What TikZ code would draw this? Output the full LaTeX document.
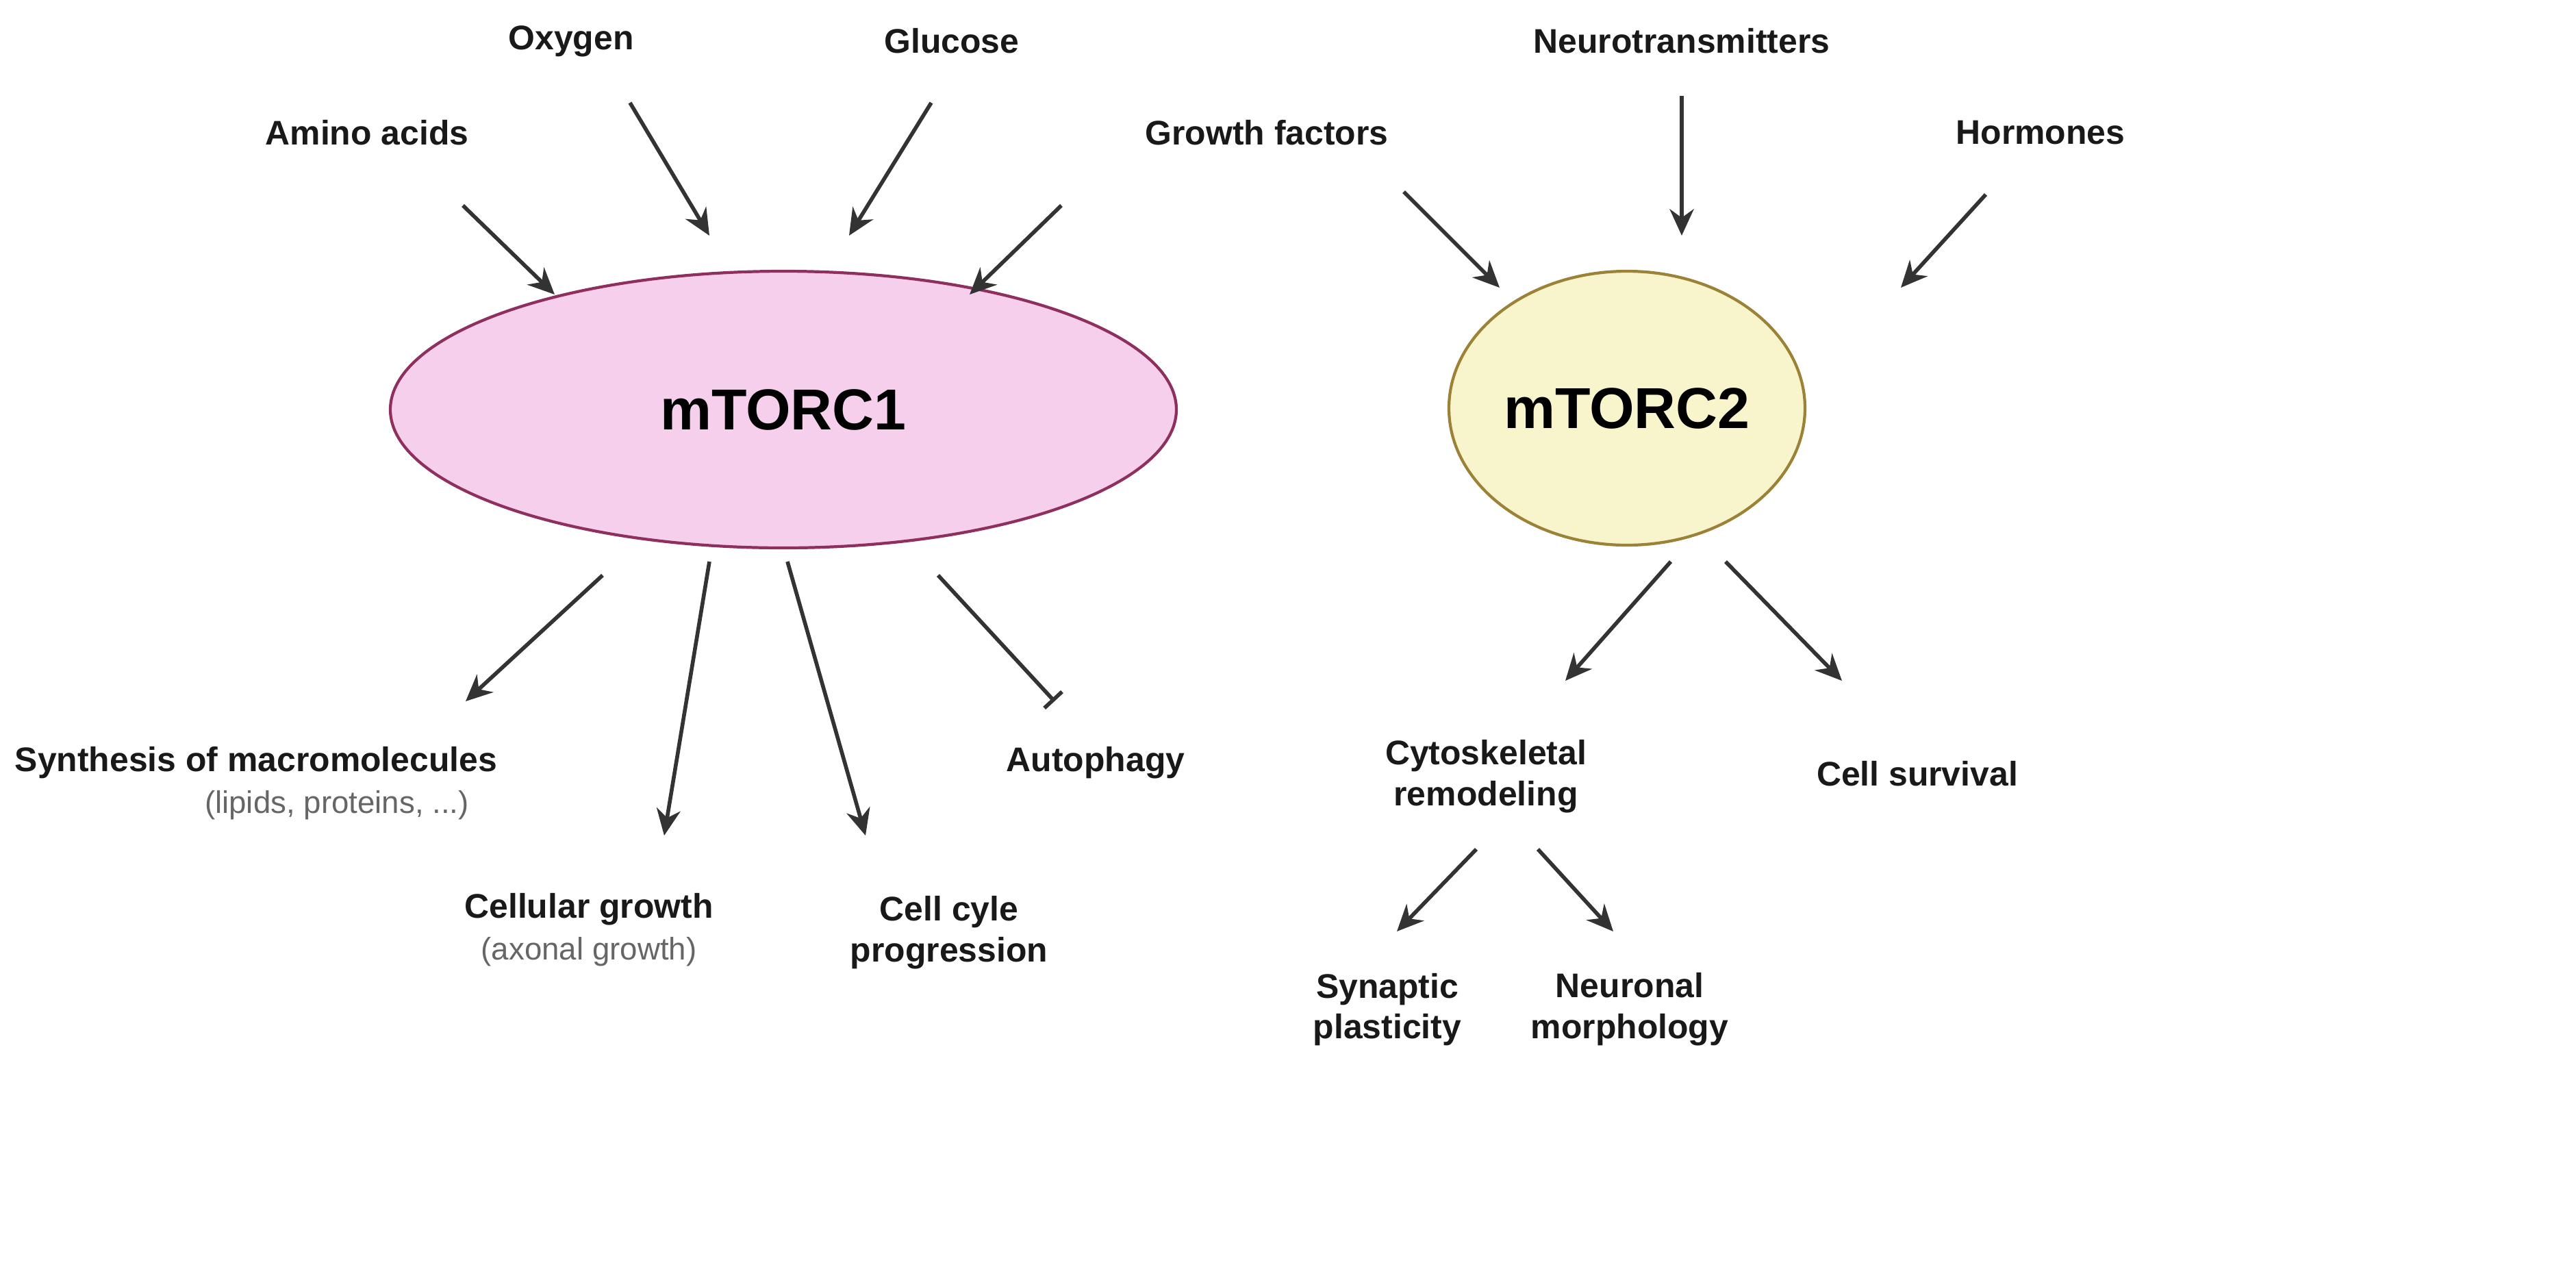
\documentclass[tikz,border=0pt]{standalone}
\usepackage{fontspec}
\setmainfont{Liberation Sans}
\usetikzlibrary{arrows.meta,shapes.geometric}
\definecolor{arr}{HTML}{333333}
\definecolor{pinkf}{HTML}{F6CFEC}
\definecolor{pinkd}{HTML}{8E2F5E}
\definecolor{yelf}{HTML}{F8F4CC}
\definecolor{yeld}{HTML}{9C8236}
\definecolor{gtxt}{HTML}{666666}
\begin{document}
\begin{tikzpicture}[x=0.02cm,y=-0.02cm,
  lab/.style={font=\fontsize{14.2}{17}\selectfont\bfseries,text=black!90,align=center,inner sep=0},
  sub/.style={font=\fontsize{13}{15}\selectfont,text=gtxt,inner sep=0},
  act/.style={draw=arr,line width=1.6pt,-{Stealth[length=11pt,width=10pt]}},
  inh/.style={draw=arr,line width=1.6pt,-{Bar[width=10pt,line width=1.6pt]}},
  cplx/.style={ellipse,line width=1.2pt,font=\fontsize{24}{28}\selectfont\bfseries,inner sep=0}]
\useasboundingbox (0,0) rectangle (1881,934);
\node[cplx,draw=pinkd,fill=pinkf,minimum width=574*0.02cm,minimum height=202*0.02cm] (m1) at (572,299) {mTORC1};
\node[cplx,draw=yeld,fill=yelf,minimum width=260*0.02cm,minimum height=200*0.02cm] (m2) at (1188,298) {mTORC2};
% inputs
\node[lab] (aa) at (268,97) {Amino acids};
\node[lab] (ox) at (417,30) {Oxygen};
\node[lab] (gl) at (695,30) {Glucose};
\node[lab] (gf) at (925,97) {Growth factors};
\node[lab] (nt) at (1228,30) {Neurotransmitters};
\node[lab] (ho) at (1490,97) {Hormones};
% outputs
\node[lab] (sm) at (187,557) {Synthesis of macromolecules};
\node[sub] (smx) at (246,588) {(lipids, proteins, ...)};
\node[lab] (cg) at (430,664) {Cellular growth};
\node[sub] (cgx) at (430,695) {(axonal growth)};
\node[lab] (cc) at (693,681) {Cell cyle\\progression};
\node[lab] (au) at (800,557) {Autophagy};
\node[lab] (cr) at (1085,567) {Cytoskeletal\\remodeling};
\node[lab] (cs) at (1400,565) {Cell survival};
\node[lab] (sp) at (1013,737) {Synaptic\\plasticity};
\node[lab] (nm) at (1190,737) {Neuronal\\morphology};
% coordinates
\coordinate (a1) at (338,150); \coordinate (b1) at (405,215);
\coordinate (a2) at (460,75);  \coordinate (b2) at (518,172);
\coordinate (a3) at (680,75);  \coordinate (b3) at (620,172);
\coordinate (a4) at (775,150); \coordinate (b4) at (708,215);
\coordinate (a5) at (1025,140); \coordinate (b5) at (1095,210);
\coordinate (a6) at (1228,70); \coordinate (b6) at (1228,172);
\coordinate (a7) at (1450,142); \coordinate (b7) at (1388,210);
\coordinate (c1) at (440,420); \coordinate (d1) at (340,512);
\coordinate (c2) at (518,410); \coordinate (d2) at (485,610);
\coordinate (c3) at (575,410); \coordinate (d3) at (632,610);
\coordinate (c4) at (685,420); \coordinate (d4) at (770,512);
\coordinate (e1) at (1220,410); \coordinate (f1) at (1143,497);
\coordinate (e2) at (1260,410); \coordinate (f2) at (1345,497);
\coordinate (g1) at (1078,620); \coordinate (h1) at (1020,680);
\coordinate (g2) at (1123,620); \coordinate (h2) at (1178,680);
\foreach \s/\t in {a1/b1,a2/b2,a3/b3,a4/b4,a5/b5,a6/b6,a7/b7,c1/d1,c2/d2,c3/d3,e1/f1,e2/f2,g1/h1,g2/h2}
  \draw[act] (\s) -- (\t);
\draw[inh] (c4) -- (d4);
\end{tikzpicture}
\end{document}
